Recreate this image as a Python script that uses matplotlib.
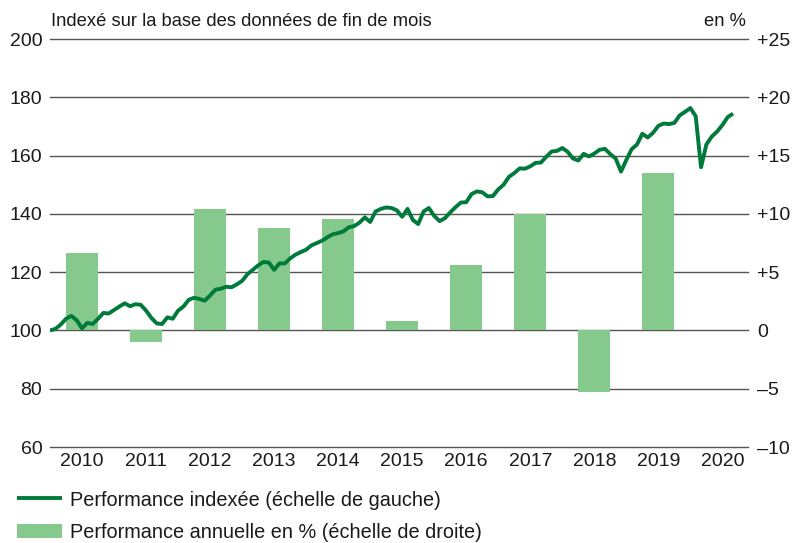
import matplotlib
matplotlib.use("Agg")
import matplotlib.pyplot as plt
from matplotlib.lines import Line2D
from matplotlib.patches import Rectangle
import numpy as np

# Annual performance (right scale, %)
bar_years = [2010, 2011, 2012, 2013, 2014, 2015, 2016, 2017, 2018, 2019]
bar_values = [6.6, -1.0, 10.4, 8.8, 9.6, 0.8, 5.6, 10.0, -5.3, 13.5]

# Indexed performance, month-end values starting January 2010 (left scale)
index_values = [
    100.0, 100.5, 102.0, 104.0, 105.0, 103.5, 100.7, 102.6, 102.2, 104.0, 106.0, 105.8,
    107.0, 108.2, 109.3, 108.3, 109.0, 108.8, 106.8, 104.3, 102.4, 102.2, 104.5, 104.0,
    106.8, 108.2, 110.5, 111.2, 110.8, 110.2, 112.0, 114.0, 114.3, 115.0, 114.8, 115.8,
    117.0, 119.3, 120.8, 122.3, 123.5, 123.3, 120.8, 123.0, 123.0, 124.7, 126.0, 126.9,
    127.7, 129.2, 130.0, 130.8, 132.0, 133.0, 133.4, 134.0, 135.4, 135.8, 137.0, 138.8,
    137.2, 140.8, 141.7, 142.2, 142.0, 141.2, 139.0, 141.7, 137.9, 136.5, 140.8, 142.0,
    139.3, 137.5, 138.5, 140.5, 142.3, 143.9, 144.0, 146.8, 147.7, 147.4, 146.0, 146.1,
    148.4, 150.0, 152.7, 154.0, 155.6, 155.5, 156.3, 157.5, 157.6, 159.6, 161.4, 161.6,
    162.6, 161.3, 159.0, 158.3, 160.6, 159.7, 160.7, 162.0, 162.3, 160.5, 159.0, 154.5,
    158.5, 162.2, 163.8, 167.5, 166.2, 167.8, 170.2, 171.0, 170.8, 171.2, 173.8, 175.0,
    176.3, 173.5, 156.0, 163.8, 166.5, 168.2, 170.5, 173.2, 174.4,
]

year_labels = ["2010", "2011", "2012", "2013", "2014", "2015", "2016", "2017", "2018", "2019", "2020"]
left_ticks = [60, 80, 100, 120, 140, 160, 180, 200]
right_ticks = [-10, -5, 0, 5, 10, 15, 20, 25]
right_labels = ["\u201310", "\u20135", "0", "+5", "+10", "+15", "+20", "+25"]
legend_labels = ["Performance indexée (échelle de gauche)",
                 "Performance annuelle en % (échelle de droite)"]
title_left = "Indexé sur la base des données de fin de mois"
title_right = "en %"

plt.rcParams["font.family"] = ["Liberation Sans", "DejaVu Sans"]

LINE_COLOR = "#007A3A"
BAR_COLOR = "#85CA8C"
GRID_COLOR = "#555555"
TEXT_COLOR = "#1a1a1a"
FS_TICK = 14
FS_TITLE = 13.2
FS_LEG = 14.3

W, H = 792, 543
fig = plt.figure(figsize=(W / 100, H / 100), dpi=100)
rect = [50 / W, 1 - 447 / H, 698 / W, 408 / H]
ax = fig.add_axes(rect, label="grid")          # left scale, gridlines, ticks
ax_bar = fig.add_axes(rect, label="bars")      # right scale, bars
ax_line = fig.add_axes(rect, label="line")     # left scale, line on top

XMIN, XMAX = 2010, 2020.9

# gridlines
ax.set_ylim(60, 200)
ax.set_yticks(left_ticks)
for t in left_ticks:
    ax.axhline(t, color=GRID_COLOR, lw=1.0, zorder=0, clip_on=False)
ax.set_xticks([y + 0.5 for y in range(2010, 2021)])
ax.set_xticklabels(year_labels)
ax.tick_params(axis="x", length=0, pad=4.5, labelsize=FS_TICK, colors=TEXT_COLOR)
ax.tick_params(axis="y", length=0, pad=5.5, labelsize=FS_TICK, colors=TEXT_COLOR)

# bars
ax_bar.bar([y + 0.5 for y in bar_years], bar_values, width=0.5, color=BAR_COLOR)
ax_bar.set_ylim(-10, 25)
ax_bar.yaxis.tick_right()
ax_bar.set_yticks(right_ticks)
ax_bar.set_yticklabels(right_labels)
ax_bar.tick_params(axis="y", length=0, pad=6.5, labelsize=FS_TICK, colors=TEXT_COLOR)
ax_bar.set_xticks([])

# line
months = np.arange(len(index_values))
x_line = 2010 + months / 12.0
ax_line.plot(x_line, index_values, color=LINE_COLOR, lw=2.8, solid_joinstyle="round",
             solid_capstyle="butt")
ax_line.set_ylim(60, 200)
ax_line.set_xticks([])
ax_line.set_yticks([])

for a in (ax, ax_bar, ax_line):
    a.set_xlim(XMIN, XMAX)
    for s in a.spines.values():
        s.set_visible(False)
    a.patch.set_visible(False)

fig.text(51 / W, 1 - 22 / H, title_left, fontsize=FS_TITLE, color=TEXT_COLOR,
         ha="left", va="center")
fig.text(746 / W, 1 - 22 / H, title_right, fontsize=FS_TITLE, color=TEXT_COLOR,
         ha="right", va="center")

# legend (manual placement in figure pixels)
y1, y2 = 498, 531
fig.add_artist(Line2D([17 / W, 62 / W], [1 - y1 / H, 1 - y1 / H], transform=fig.transFigure,
                      color=LINE_COLOR, lw=2.8, solid_capstyle="butt"))
fig.add_artist(Rectangle((17 / W, 1 - (y2 + 7) / H), 45 / W, 14 / H,
                         transform=fig.transFigure, facecolor=BAR_COLOR, edgecolor="none"))
fig.text(70 / W, 1 - y1 / H, legend_labels[0], fontsize=FS_LEG, color=TEXT_COLOR,
         ha="left", va="center_baseline")
fig.text(70 / W, 1 - y2 / H, legend_labels[1], fontsize=FS_LEG, color=TEXT_COLOR,
         ha="left", va="center_baseline")

fig.savefig("out.png", dpi=100)
